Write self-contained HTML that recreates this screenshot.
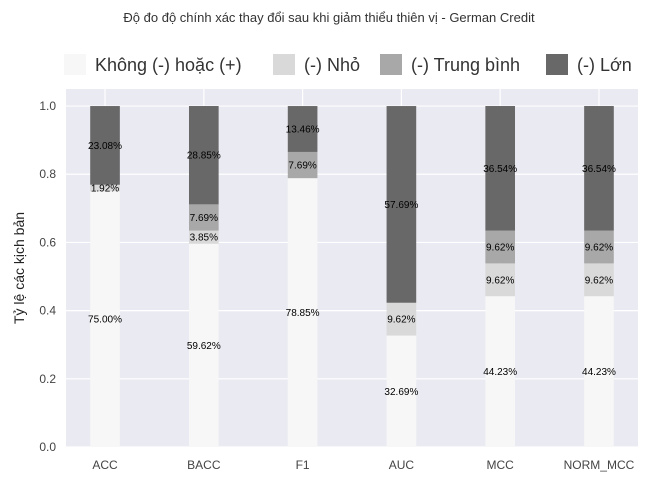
<!DOCTYPE html>
<html><head><meta charset="utf-8"><style>
body{margin:0;background:#fff;font-family:"Liberation Sans","DejaVu Sans",sans-serif}
svg text{font-family:"Liberation Sans","DejaVu Sans",sans-serif}
</style></head><body>
<svg id="c" width="658" height="485" xmlns="http://www.w3.org/2000/svg">
<rect x="66" y="89" width="572" height="358" fill="#eaeaf2"/>
<g id="grid"></g><g id="bars"></g><g id="lbls"></g><g id="ticks"></g>
<text x="329" y="22" text-anchor="middle" font-size="13" fill="#333">Độ đo độ chính xác thay đổi sau khi giảm thiểu thiên vị - German Credit</text>
<text transform="translate(24,268) rotate(-90)" text-anchor="middle" font-size="14" fill="#222">Tỷ lệ các kịch bản</text>
<g id="legend"></g>
</svg>
<script>
const categories=["ACC","BACC","F1","AUC","MCC","NORM_MCC"];
const seriesNames=["Không (-) hoặc (+)","(-) Nhỏ","(-) Trung bình","(-) Lớn"];
const khong=[75.00,59.62,78.85,32.69,44.23,44.23];
const nho=[1.92,3.85,0,9.62,9.62,9.62];
const trungBinh=[0,7.69,7.69,0,9.62,9.62];
const lon=[23.08,28.85,13.46,57.69,36.54,36.54];
const yTicks=[0,0.2,0.4,0.6,0.8,1.0];
const colors=["#f7f7f7","#d9d9d9","#a8a8a8","#686868"];
const NS="http://www.w3.org/2000/svg";
const X0=66,X1=638,Y0=447,Y1=89;
const xmin=-0.395,xmax=5.395,ymax=1.05;
const xs=v=>X0+(v-xmin)/(xmax-xmin)*(X1-X0);
const ys=v=>Y0-v/ymax*(Y0-Y1);
function mk(t,a,p){const e=document.createElementNS(NS,t);for(const k in a)e.setAttribute(k,a[k]);p.appendChild(e);return e;}
const grid=document.getElementById('grid'),bars=document.getElementById('bars'),lbls=document.getElementById('lbls'),ticks=document.getElementById('ticks');
yTicks.forEach(t=>{
 const l=mk('line',{x1:X0,x2:X1,y1:ys(t),y2:ys(t),stroke:'#fff','stroke-width':1.2},grid);
 
 
 const tx=mk('text',{x:X0-10,y:ys(t)+4,'text-anchor':'end','font-size':12,fill:'#444'},ticks);
 tx.textContent=t.toFixed(1);
 
 
});
const series=[khong,nho,trungBinh,lon];
categories.forEach((c,i)=>{
 const gl=mk('line',{x1:xs(i),x2:xs(i),y1:Y1,y2:Y0,stroke:'#fff','stroke-width':1.2},grid);
 
 
 let base=0;
 series.forEach((s,j)=>{
  const v=s[i]/100;
  if(v>0){
   const r=mk('rect',{x:xs(i-0.15),width:xs(i+0.15)-xs(i-0.15),y:ys(base+v),height:ys(base)-ys(base+v),fill:colors[j]},bars);
   
   
   const t=mk('text',{x:xs(i),y:ys(base+v/2)+3.5,'text-anchor':'middle','font-size':10,fill:'#000'},lbls);
   t.textContent=s[i].toFixed(2)+'%';
   
   
  }
  base+=v;
 });
 const tx=mk('text',{x:xs(i),y:Y0+22,'text-anchor':'middle','font-size':12,fill:'#444'},ticks);
 tx.textContent=c;
 
 
});
const leg=document.getElementById('legend');
const lx=[64,273,380,546];
seriesNames.forEach((n,j)=>{
 const r=mk('rect',{x:lx[j],y:54,width:22,height:21,fill:colors[j]},leg);
 
 
 const t=mk('text',{x:lx[j]+31,y:71,'font-size':18,fill:'#333'},leg);
 t.textContent=n;
 
 
});
</script>
</body></html>
